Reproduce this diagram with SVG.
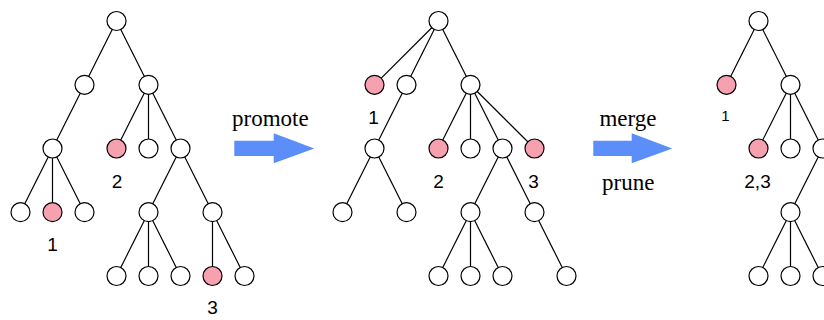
<svg xmlns="http://www.w3.org/2000/svg" width="824" height="320" viewBox="0 0 824 320">
<style>
.n{fill:#fff;stroke:#000;stroke-width:1.2}
.r{fill:#f7a1b0;stroke:#000;stroke-width:1.2}
.e{stroke:#000;stroke-width:1.2;fill:none}
.lab{font-family:"Liberation Sans",Arial,sans-serif;font-size:19px;text-anchor:middle;fill:#000}
.sm{font-size:15px}
.op{font-family:"Liberation Serif","Times New Roman",serif;font-size:23px;text-anchor:middle;fill:#000}
.arr{fill:#5b8ef8}
</style>
<rect width="824" height="320" fill="#fff"/>
<g id="connectors" class="e">
<!-- tree 1 -->
<line x1="116.5" y1="21" x2="84.5" y2="84.8"/>
<line x1="116.5" y1="21" x2="148.5" y2="84.8"/>
<line x1="84.5" y1="84.8" x2="52.5" y2="148.5"/>
<line x1="148.5" y1="84.8" x2="116.5" y2="148.5"/>
<line x1="148.5" y1="84.8" x2="148.5" y2="148.5"/>
<line x1="148.5" y1="84.8" x2="180.5" y2="148.5"/>
<line x1="52.5" y1="148.5" x2="20.5" y2="212.2"/>
<line x1="52.5" y1="148.5" x2="52.5" y2="212.2"/>
<line x1="52.5" y1="148.5" x2="84.5" y2="212.2"/>
<line x1="180.5" y1="148.5" x2="148.5" y2="212.2"/>
<line x1="180.5" y1="148.5" x2="212.5" y2="212.2"/>
<line x1="148.5" y1="212.2" x2="116.5" y2="276"/>
<line x1="148.5" y1="212.2" x2="148.5" y2="276"/>
<line x1="148.5" y1="212.2" x2="180.5" y2="276"/>
<line x1="212.5" y1="212.2" x2="212.5" y2="276"/>
<line x1="212.5" y1="212.2" x2="244.5" y2="276"/>
<!-- tree 2 -->
<line x1="438.5" y1="21" x2="374.5" y2="84.8"/>
<line x1="438.5" y1="21" x2="406.5" y2="84.8"/>
<line x1="438.5" y1="21" x2="470.5" y2="84.8"/>
<line x1="406.5" y1="84.8" x2="374.5" y2="148.5"/>
<line x1="470.5" y1="84.8" x2="438.5" y2="148.5"/>
<line x1="470.5" y1="84.8" x2="470.5" y2="148.5"/>
<line x1="470.5" y1="84.8" x2="502.5" y2="148.5"/>
<line x1="470.5" y1="84.8" x2="534.5" y2="148.5"/>
<line x1="374.5" y1="148.5" x2="342.5" y2="212.2"/>
<line x1="374.5" y1="148.5" x2="406.5" y2="212.2"/>
<line x1="502.5" y1="148.5" x2="470.5" y2="212.2"/>
<line x1="502.5" y1="148.5" x2="534.5" y2="212.2"/>
<line x1="470.5" y1="212.2" x2="438.5" y2="276"/>
<line x1="470.5" y1="212.2" x2="470.5" y2="276"/>
<line x1="470.5" y1="212.2" x2="502.5" y2="276"/>
<line x1="534.5" y1="212.2" x2="566.5" y2="276"/>
<!-- tree 3 -->
<line x1="758.5" y1="21" x2="726.5" y2="84.8"/>
<line x1="758.5" y1="21" x2="790.5" y2="84.8"/>
<line x1="790.5" y1="84.8" x2="758.5" y2="148.5"/>
<line x1="790.5" y1="84.8" x2="790.5" y2="148.5"/>
<line x1="790.5" y1="84.8" x2="822.5" y2="148.5"/>
<line x1="822.5" y1="148.5" x2="790.5" y2="212.2"/>
<line x1="790.5" y1="212.2" x2="758.5" y2="276"/>
<line x1="790.5" y1="212.2" x2="790.5" y2="276"/>
<line x1="790.5" y1="212.2" x2="822.5" y2="276"/>
</g>
<!-- tree 1 nodes -->
<g id="t1-root"><circle class="n" cx="116.5" cy="21" r="9.5"/></g>
<g id="t1-a"><circle class="n" cx="84.5" cy="84.8" r="9.5"/></g>
<g id="t1-b"><circle class="n" cx="148.5" cy="84.8" r="9.5"/></g>
<g id="t1-c"><circle class="n" cx="52.5" cy="148.5" r="9.5"/></g>
<g id="t1-d"><circle class="r" cx="116.5" cy="148.5" r="9.5"/></g>
<g id="t1-e"><circle class="n" cx="148.5" cy="148.5" r="9.5"/></g>
<g id="t1-f"><circle class="n" cx="180.5" cy="148.5" r="9.5"/></g>
<g id="t1-g"><circle class="n" cx="20.5" cy="212.2" r="9.5"/></g>
<g id="t1-h"><circle class="r" cx="52.5" cy="212.2" r="9.5"/></g>
<g id="t1-i"><circle class="n" cx="84.5" cy="212.2" r="9.5"/></g>
<g id="t1-j"><circle class="n" cx="148.5" cy="212.2" r="9.5"/></g>
<g id="t1-k"><circle class="n" cx="212.5" cy="212.2" r="9.5"/></g>
<g id="t1-l"><circle class="n" cx="116.5" cy="276" r="9.5"/></g>
<g id="t1-m"><circle class="n" cx="148.5" cy="276" r="9.5"/></g>
<g id="t1-n"><circle class="n" cx="180.5" cy="276" r="9.5"/></g>
<g id="t1-o"><circle class="r" cx="212.5" cy="276" r="9.5"/></g>
<g id="t1-p"><circle class="n" cx="244.5" cy="276" r="9.5"/></g>
<g id="t1-labels">
<text class="lab" x="117" y="188">2</text>
<text class="lab" x="52.5" y="250.5">1</text>
<text class="lab" x="212.5" y="314">3</text>
</g>
<!-- tree 2 nodes -->
<g id="t2-root"><circle class="n" cx="438.5" cy="21" r="9.5"/></g>
<g id="t2-a"><circle class="r" cx="374.5" cy="84.8" r="9.5"/></g>
<g id="t2-b"><circle class="n" cx="406.5" cy="84.8" r="9.5"/></g>
<g id="t2-c"><circle class="n" cx="470.5" cy="84.8" r="9.5"/></g>
<g id="t2-d"><circle class="n" cx="374.5" cy="148.5" r="9.5"/></g>
<g id="t2-e"><circle class="r" cx="438.5" cy="148.5" r="9.5"/></g>
<g id="t2-f"><circle class="n" cx="470.5" cy="148.5" r="9.5"/></g>
<g id="t2-g"><circle class="n" cx="502.5" cy="148.5" r="9.5"/></g>
<g id="t2-h"><circle class="r" cx="534.5" cy="148.5" r="9.5"/></g>
<g id="t2-i"><circle class="n" cx="342.5" cy="212.2" r="9.5"/></g>
<g id="t2-j"><circle class="n" cx="406.5" cy="212.2" r="9.5"/></g>
<g id="t2-k"><circle class="n" cx="470.5" cy="212.2" r="9.5"/></g>
<g id="t2-l"><circle class="n" cx="534.5" cy="212.2" r="9.5"/></g>
<g id="t2-m"><circle class="n" cx="438.5" cy="276" r="9.5"/></g>
<g id="t2-n"><circle class="n" cx="470.5" cy="276" r="9.5"/></g>
<g id="t2-o"><circle class="n" cx="502.5" cy="276" r="9.5"/></g>
<g id="t2-p"><circle class="n" cx="566.5" cy="276" r="9.5"/></g>
<g id="t2-labels">
<text class="lab" x="373.5" y="123.5">1</text>
<text class="lab" x="438.5" y="188">2</text>
<text class="lab" x="533.5" y="188">3</text>
</g>
<!-- tree 3 nodes -->
<g id="t3-root"><circle class="n" cx="758.5" cy="21" r="9.5"/></g>
<g id="t3-a"><circle class="r" cx="726.5" cy="84.8" r="9.5"/></g>
<g id="t3-b"><circle class="n" cx="790.5" cy="84.8" r="9.5"/></g>
<g id="t3-c"><circle class="r" cx="758.5" cy="148.5" r="9.5"/></g>
<g id="t3-d"><circle class="n" cx="790.5" cy="148.5" r="9.5"/></g>
<g id="t3-e"><circle class="n" cx="822.5" cy="148.5" r="9.5"/></g>
<g id="t3-f"><circle class="n" cx="790.5" cy="212.2" r="9.5"/></g>
<g id="t3-g"><circle class="n" cx="758.5" cy="276" r="9.5"/></g>
<g id="t3-h"><circle class="n" cx="790.5" cy="276" r="9.5"/></g>
<g id="t3-i"><circle class="n" cx="822.5" cy="276" r="9.5"/></g>
<g id="t3-labels">
<text class="lab sm" x="725.5" y="120.5">1</text>
<text class="lab" x="757.5" y="188">2,3</text>
</g>
<!-- operations -->
<g id="promote">
<text class="op" x="270.3" y="126">promote</text>
<polygon class="arr" points="234.3,140.7 273.7,140.7 273.7,133.3 314.3,148.5 273.7,163.3 273.7,156 234.3,156"/>
</g>
<g id="merge-prune">
<text class="op" x="628" y="126">merge</text>
<text class="op" x="628.3" y="190">prune</text>
<polygon class="arr" points="593.3,140.7 631.7,140.7 631.7,133.3 672.3,148.5 631.7,163.3 631.7,156 593.3,156"/>
</g>
</svg>
